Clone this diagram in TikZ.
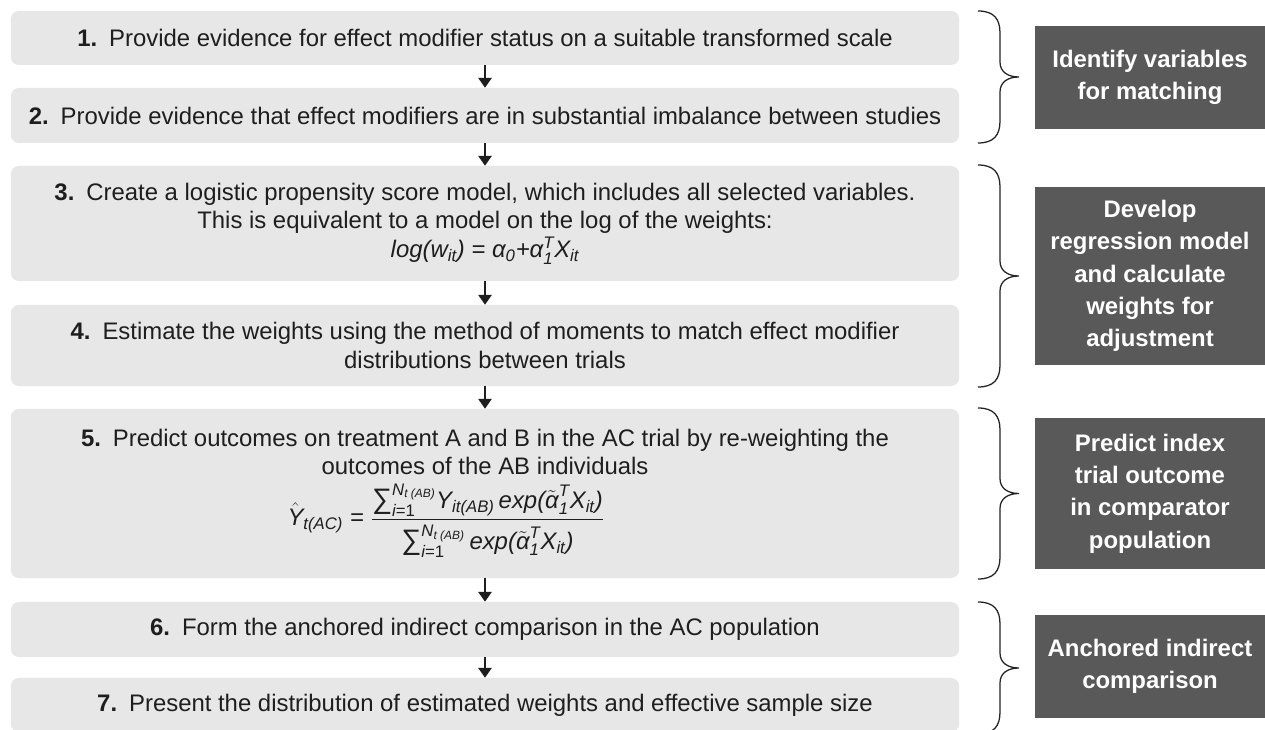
\documentclass[tikz,border=0pt]{standalone}
\usepackage{amsmath}
\usepackage{fontspec}
\setmainfont{Liberation Sans}
\usetikzlibrary{arrows.meta}

\definecolor{maicStepFill}{RGB}{231,231,231}
\definecolor{maicStepText}{RGB}{30,30,30}
\definecolor{maicGroupFill}{RGB}{89,89,89}
\definecolor{maicBrace}{RGB}{35,35,35}

\newcommand\mi[1]{\text{\itshape #1}}
\newcommand\bigSum{\text{\fontsize{20}{20}\selectfont ∑}}
\newcommand\groupBrace[2]{%
  \pgfmathsetmacro\braceMid{(#1+#2)/2}%
  \draw[braceLine] (978,#1) .. controls (994,#1) and (1000,#1-8) .. (1000,#1-22)
    -- (1000,\braceMid+15) .. controls (1000,\braceMid+5) and (1008,\braceMid) .. (1019,\braceMid)
    .. controls (1008,\braceMid) and (1000,\braceMid-5) .. (1000,\braceMid-15)
    -- (1000,#2+22) .. controls (1000,#2+8) and (994,#2) .. (978,#2);}

\begin{document}
\begin{tikzpicture}[x=0.025cm,y=0.025cm,
      stepbox/.style={fill=maicStepFill, rounded corners=.2cm, inner sep=0pt,
        minimum width=23.7cm, align=center, text=maicStepText,
        font=\fontsize{17}{20}\selectfont},
      groupbox/.style={fill=maicGroupFill, inner sep=0pt, minimum width=5.75cm,
        align=center, text=white, font=\fontsize{17}{23}\selectfont\bfseries},
      flowArrow/.style={-{Triangle[width=9.5pt,length=7pt]}, line width=1.1pt,
        draw=maicStepText},
      braceLine/.style={draw=maicBrace, line width=.9pt}]
      \useasboundingbox (0,0) rectangle (1265,730);
      \fill[white] (0,0) rectangle (1265,730);

      % steps
      \node[stepbox, minimum height=1.35cm] (s1) at (485,692)
        {\textbf{1.}\hspace{.5em}Provide evidence for effect modifier status on a suitable transformed scale};
      \node[stepbox, minimum height=1.375cm] (s2) at (485,614.5)
        {\textbf{2.}\hspace{.5em}Provide evidence that effect modifiers are in substantial imbalance between studies};
      \node[stepbox, minimum height=2.875cm] (s3) at (485,506.5)
        {\textbf{3.}\hspace{.5em}Create a logistic propensity score model, which includes all selected variables.\\
         This is equivalent to a model on the log of the weights:\\[1pt]
         $\mi{log(}\mi{w}_{\mi{it}}\mi{) = }\mi{α}_{\mi{0}}\mi{+}\mi{α}_{\mi{1}}^{\mi{T}}\mi{X}_{\mi{it}}$};
      \node[stepbox, minimum height=2.025cm] (s4) at (485,384.5)
        {\textbf{4.}\hspace{.5em}Estimate the weights using the method of moments to match effect modifier\\
         distributions between trials};
      \node[stepbox, minimum height=4.225cm] (s5) at (485,236.5)
        {\textbf{5.}\hspace{.5em}Predict outcomes on treatment A and B in the AC trial by re-weighting the\\
         outcomes of the AB individuals\\[5pt]
         $\hat{\mi{Y}}_{\mi{t(AC)}}\mi{ = }\dfrac{\bigSum_{\mi{i}\text{=1}}^{\mi{N}_{\mi{t (AB)}}}\mi{Y}_{\mi{it(AB)}}\,\mi{exp(}\tilde{\mi{α}}_{\mi{1}}^{\mi{T}}\mi{X}_{\mi{it}}\mi{)}\rule[-5pt]{0pt}{5pt}}
           {\rule{0pt}{19pt}\bigSum_{\mi{i}\text{=1}}^{\mi{N}_{\mi{t (AB)}}}\,\mi{exp(}\tilde{\mi{α}}_{\mi{1}}^{\mi{T}}\mi{X}_{\mi{it}}\mi{)}}$\hspace*{1.95cm}};
      \node[stepbox, minimum height=1.375cm] (s6) at (485,100.5)
        {\textbf{6.}\hspace{.5em}Form the anchored indirect comparison in the AC population};
      \node[stepbox, minimum height=1.35cm] (s7) at (485,25)
        {\textbf{7.}\hspace{.5em}Present the distribution of estimated weights and effective sample size};

      \draw[flowArrow] (s1) -- (s2);
      \draw[flowArrow] (s2) -- (s3);
      \draw[flowArrow] (s3) -- (s4);
      \draw[flowArrow] (s4) -- (s5);
      \draw[flowArrow] (s5) -- (s6);
      \draw[flowArrow] (s6) -- (s7);

      % groups
      \groupBrace{719}{587}
      \groupBrace{565}{343}
      \groupBrace{322}{151}
      \groupBrace{128}{-4}

      \node[groupbox, minimum height=2.575cm] (g1) at (1150,652.5)
        {Identify variables\\for matching};
      \node[groupbox, minimum height=4.45cm] (g2) at (1150,454)
        {Develop\\regression model\\and calculate\\weights for\\adjustment};
      \node[groupbox, minimum height=3.775cm] (g3) at (1150,236.5)
        {Predict index\\trial outcome\\in comparator\\population};
      \node[groupbox, minimum height=2.575cm] (g4) at (1150,63.5)
        {Anchored indirect\\comparison};
    \end{tikzpicture}
\end{document}
